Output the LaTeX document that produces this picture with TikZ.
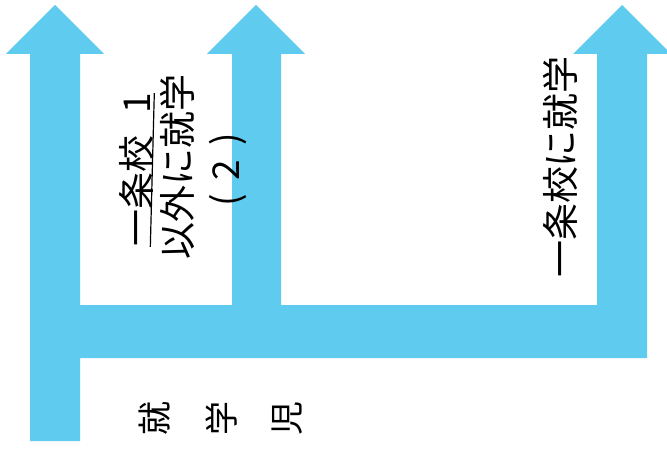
\documentclass[tikz,border=0pt]{standalone}
\usepackage{fontspec}
\newfontfamily\jp{Noto Sans CJK JP}
\definecolor{arrowblue}{RGB}{95,203,238}
\tikzset{
  lbl/.style={rotate=90, inner sep=0pt, font=\jp\fontsize{37}{37}\selectfont, text=black},
  chr/.style={rotate=90, inner sep=0pt, font=\jp\fontsize{34}{34}\selectfont, text=black}
}
\begin{document}
\begin{tikzpicture}[x=1pt,y=-1pt]
\useasboundingbox (0,0) rectangle (667,449);
\clip (0,0) rectangle (667,449);
\fill[white] (0,0) rectangle (667,449);
\fill[arrowblue] (30,441) -- (30,54) -- (6,54) -- (55,5) -- (104,54) -- (80,54) -- (80,305)
  -- (232,305) -- (232,54) -- (207,54) -- (256,5) -- (305,54) -- (281,54) -- (281,305)
  -- (597,305) -- (597,54) -- (573,54) -- (622,5) -- (671,54) -- (647,54) -- (647,358)
  -- (80,358) -- (80,441) -- cycle;
% fraction
\node[lbl, anchor=center] (num) at (136,170) {一条校\hspace{22pt}1};
\node[lbl, anchor=center] (den) at (177,167) {以外に就学};
\draw[line width=1.2pt] ([xshift=-3pt]num.south west) -- ([xshift=1pt]num.south east);
\node[lbl] (paren) at (228,170) {(\hspace{14pt}2\hspace{14pt})};
% right label
\node[lbl] (right) at (560,167) {一条校に就学};
% bottom characters
\node[chr] (c1) at (155,418) {就};
\node[chr] (c2) at (222,418) {学};
\node[chr] (c3) at (287,418) {児};
\end{tikzpicture}
\end{document}
